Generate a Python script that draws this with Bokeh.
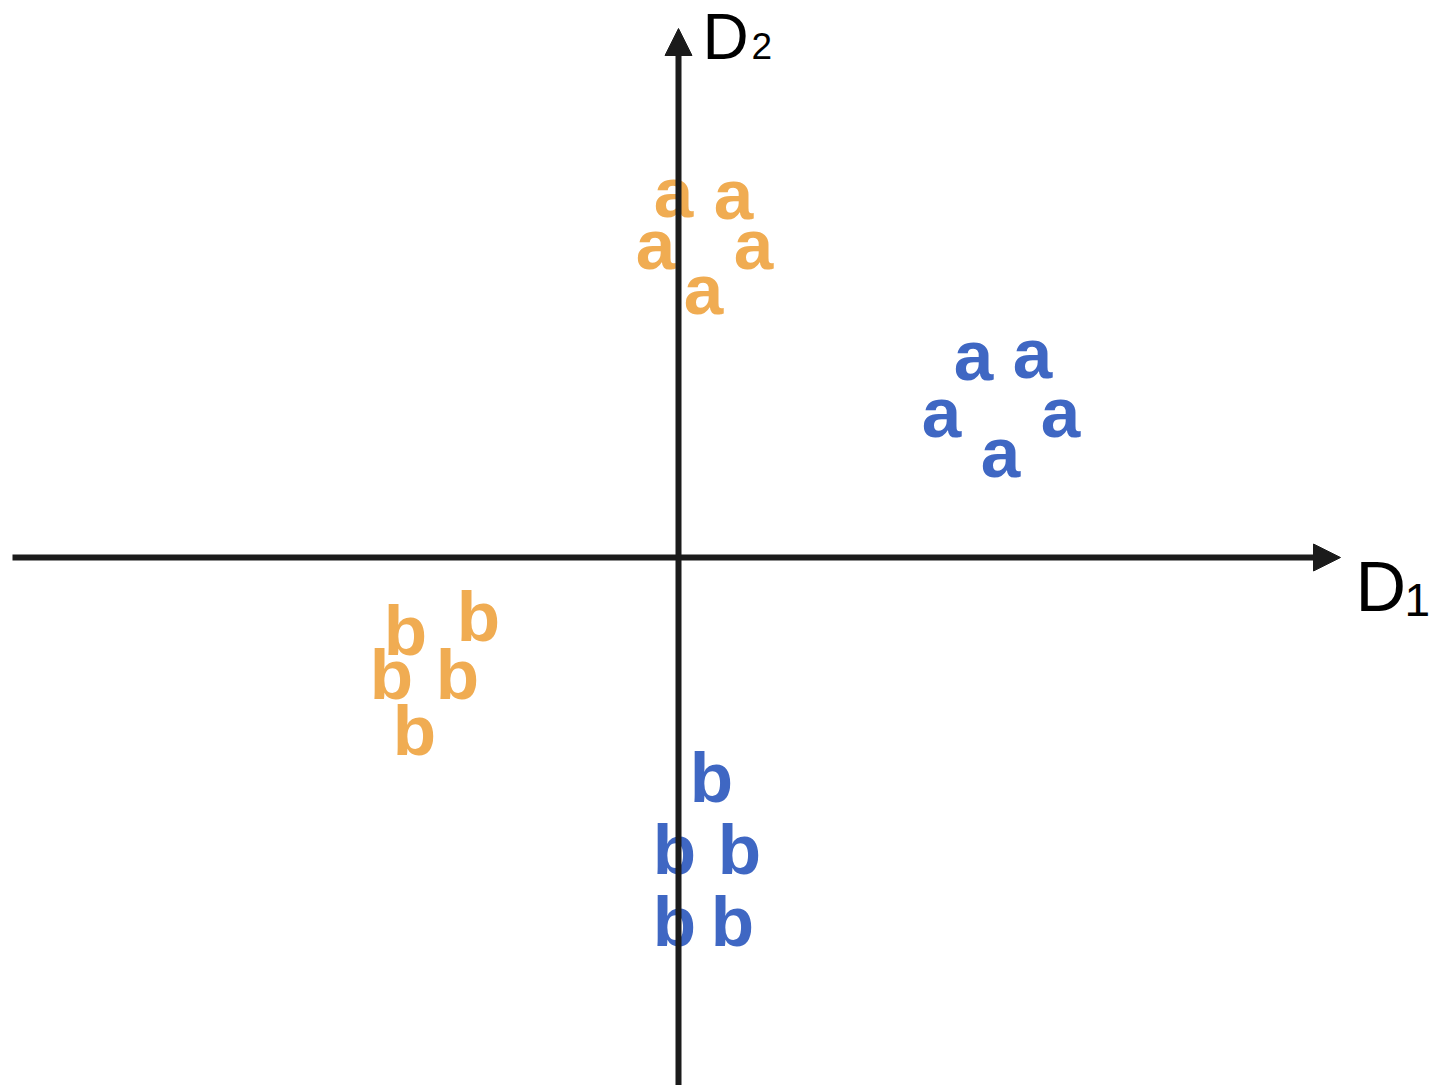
from bokeh.plotting import figure
from bokeh.models import Range1d, Arrow, NormalHead, ColumnDataSource
from bokeh.core.properties import value
from bokeh.embed import file_html
from bokeh.resources import INLINE

# --- data (D1, D2 coordinates; origin at the axes crossing) ---
a_orange_x = [-0.05, 0.55, -0.23, 0.75, 0.25]
a_orange_y = [3.59, 3.57, 3.07, 3.07, 2.62]
a_blue_x = [2.95, 3.54, 2.63, 3.82, 3.22]
a_blue_y = [1.96, 1.98, 1.39, 1.39, 0.99]
b_orange_x = [-2.73, -2.00, -2.87, -2.21, -2.64]
b_orange_y = [-0.74, -0.60, -1.18, -1.18, -1.74]
b_blue_x = [0.33, -0.04, 0.61, -0.04, 0.54]
b_blue_y = [-2.21, -2.93, -2.93, -3.65, -3.65]

ORANGE = "#F0AC52"
BLUE = "#3F67C3"
AXIS = "#1b1b1b"

W, H = 1435, 1085
p = figure(width=W, height=H, output_backend="svg", toolbar_location=None,
           x_range=Range1d(-6.78, 7.57), y_range=Range1d(-5.28, 5.57),
           min_border=0, x_axis_type=None, y_axis_type=None)
p.grid.visible = False
p.outline_line_color = None
p.background_fill_color = "white"
p.border_fill_color = "white"

FONT = value("Liberation Sans")

def letters(xs, ys, ch, color, yoff):
    src = ColumnDataSource(dict(x=xs, y=ys, t=[ch] * len(xs)))
    p.text(x="x", y="y", text="t", source=src, text_color=color,
           text_font=FONT, text_font_style="bold", text_font_size="71px",
           text_align="center", text_baseline="alphabetic", y_offset=yoff)

letters(a_orange_x, a_orange_y, "a", ORANGE, -6)
letters(a_blue_x, a_blue_y, "a", BLUE, -6)
letters(b_orange_x, b_orange_y, "b", ORANGE, -1)
letters(b_blue_x, b_blue_y, "b", BLUE, -1)

# axes with arrow heads
p.add_layout(Arrow(end=NormalHead(size=27, fill_color=AXIS, line_color=AXIS, line_width=1),
                   x_start=-6.66, y_start=0, x_end=6.62, y_end=0,
                   line_color=AXIS, line_width=6))
p.add_layout(Arrow(end=NormalHead(size=27, fill_color=AXIS, line_color=AXIS, line_width=1),
                   x_start=0, y_start=-5.4, x_end=0, y_end=5.29,
                   line_color=AXIS, line_width=6))

# axis labels D1, D2
def lab(x, y, t, size, xo, yo):
    p.text(x=[x], y=[y], text=[t], text_color="black", text_font=FONT,
           text_font_size=size, text_align="left", text_baseline="alphabetic",
           x_offset=xo, y_offset=yo)

lab(6.62, 0, "D", "70px", 15, 29)
lab(6.62, 0, "1", "46px", 64, 42)
lab(0, 5.29, "D", "64px", 24, 8)
lab(0, 5.29, "2", "37px", 73, 17)

open("out.html", "w").write(file_html(p, INLINE))
